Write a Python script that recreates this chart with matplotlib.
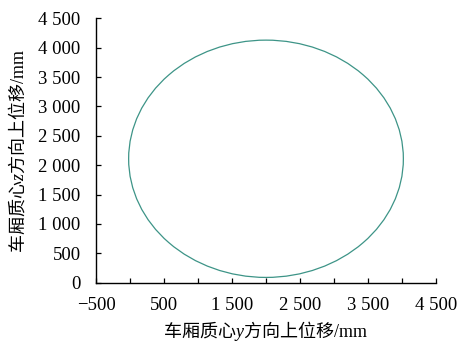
import matplotlib
matplotlib.use("Agg")
import matplotlib.pyplot as plt
from matplotlib.patches import Ellipse
from matplotlib.ticker import FuncFormatter, MultipleLocator

# Data: trajectory of the carriage centre (closed ellipse)
center_y = 2000      # mm, y direction
center_z = 2110      # mm, z direction
diam_y = 4040        # mm, full width of the trajectory
diam_z = 4040        # mm, full height of the trajectory

x_limits = [-500, 4500]
y_limits = [0, 4500]
x_labeled = [-500, 500, 1500, 2500, 3500, 4500]

plt.rcParams['font.family'] = ['Liberation Serif', 'Noto Sans CJK SC']
plt.rcParams['mathtext.fontset'] = 'custom'
plt.rcParams['mathtext.rm'] = 'Liberation Serif'
plt.rcParams['mathtext.it'] = 'Liberation Serif:italic'
plt.rcParams['axes.unicode_minus'] = True

fig = plt.figure(figsize=(4.58, 3.42), dpi=100)
ax = fig.add_axes([96/458, 1-282.7/342, 340/458, 264.3/342])

ell = Ellipse((center_y, center_z), diam_y, diam_z, fill=False,
              edgecolor='#3d9487', linewidth=0.9)
ax.add_patch(ell)

ax.set_xlim(*x_limits)
ax.set_ylim(*y_limits)

def fmt(v):
    v = int(round(v))
    s = f"{abs(v):,}".replace(",", " ")
    return ("\u2212" + s) if v < 0 else s

ax.xaxis.set_major_locator(MultipleLocator(500))
ax.yaxis.set_major_locator(MultipleLocator(500))
ax.xaxis.set_major_formatter(FuncFormatter(lambda v, p: fmt(v) if int(round(v)) in x_labeled else ""))
ax.yaxis.set_major_formatter(FuncFormatter(lambda v, p: fmt(v)))

for s in ['top', 'right']:
    ax.spines[s].set_visible(False)
for s in ['left', 'bottom']:
    ax.spines[s].set_linewidth(1.0)
    ax.spines[s].set_color('black')

ax.tick_params(direction='in', length=3.5, width=0.9, labelsize=13.5, colors='black')
ax.tick_params(axis='y', pad=11)
ax.tick_params(axis='x', pad=10)

cjk = 'Noto Sans CJK SC'
ax.set_xlabel('车厢质心$\\mathit{y}$方向上位移$\\mathrm{/mm}$', fontsize=13, labelpad=4, family=cjk)
ax.set_ylabel('车厢质心$\\mathit{z}$方向上位移$\\mathrm{/mm}$', fontsize=13, labelpad=8, family=cjk)

fig.savefig('out.png', dpi=100)
